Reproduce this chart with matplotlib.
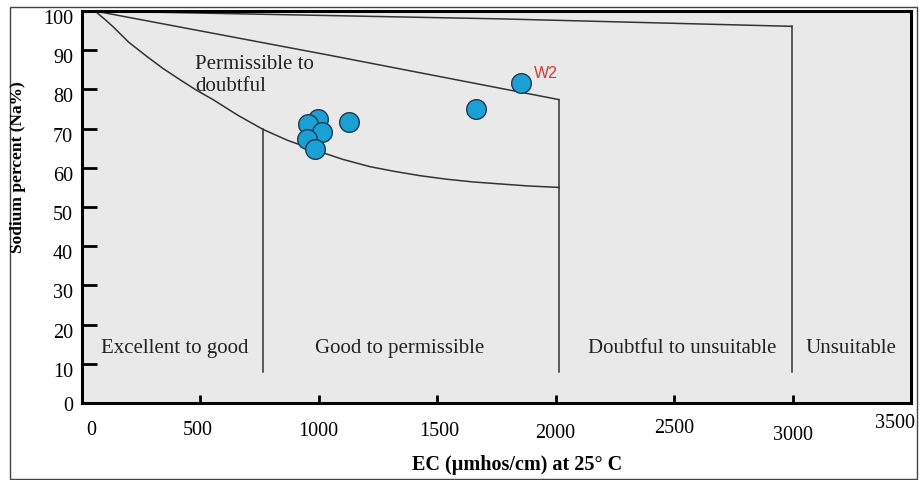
import numpy as np
import matplotlib.pyplot as plt
from matplotlib.patches import Rectangle
from matplotlib.transforms import ScaledTranslation

# sample points (EC, Na%)
ec_samples = [1854, 1663, 1129, 999, 957, 1016, 950, 985]
na_samples = [81.7, 74.9, 71.6, 72.5, 71.2, 69.2, 67.4, 64.8]
sample_names = ["W2", "", "", "", "", "", "", ""]

# boundary lines of the Wilcox diagram
top_ec = [57, 1766, 2996]
top_na = [100, 98.0, 96.1]
mid_ec = [57, 1048, 2015]
mid_na = [100, 88.7, 77.4]
low_ec = [57, 100, 133, 200, 276, 345, 415, 485, 555, 660, 766, 870, 977,
          1100, 1217, 1320, 1428, 1540, 1652, 1765, 1879, 2015]
low_na = [100, 97.8, 96.0, 92.0, 88.4, 85.3, 82.5, 79.8, 77.4, 73.4, 69.8, 67.0, 64.7,
          62.2, 60.3, 59.1, 58.0, 57.1, 56.4, 55.9, 55.4, 55.0]
divider_ec = [766, 2015, 2996]
divider_top = [69.8, 77.4, 96.1]
divider_bottom = 8

class_names = ["Excellent to good", "Good to permissible",
               "Doubtful to unsuitable", "Unsuitable"]
class_ec = [395, 1344, 2533, 3246]
class_na = 14.2

x_ticks = [0, 500, 1000, 1500, 2000, 2500, 3000, 3500]
y_ticks = [0, 10, 20, 30, 40, 50, 60, 70, 80, 90, 100]

serif = ["Liberation Serif", "DejaVu Serif"]

fig = plt.figure(figsize=(9.19, 4.81), dpi=100)
ax = fig.add_axes([0.0887, 0.160, 0.9026, 0.815])
ax.set_facecolor("#e9e9e9")

line_kw = dict(color="#333333", lw=1.1)
ax.plot(top_ec, top_na, **line_kw)
ax.plot(mid_ec, mid_na, **line_kw)
ax.plot(low_ec, low_na, **line_kw)
for xe, yt in zip(divider_ec, divider_top):
    ax.plot([xe, xe], [divider_bottom, yt], **line_kw)

for name, xe in zip(class_names, class_ec):
    ax.text(xe, class_na, name, ha="center", va="center", fontsize=15,
            family=serif, color="#222222")
ax.text(479, 83.8, "Permissible to\ndoubtful", ha="left", va="center",
        fontsize=15, family=serif, color="#222222", linespacing=1.17)

ax.scatter(ec_samples, na_samples, s=200, color="#1ba0d6",
           edgecolor="#1d3b4c", linewidth=1.0, zorder=5)
for name, xe, ye in zip(sample_names, ec_samples, na_samples):
    if name:
        ax.text(xe + 55, ye + 2.6, name, color="#d23a32", fontsize=11.5,
                family=["Liberation Sans", "DejaVu Sans"], ha="left", va="center")

ax.set_xlim(0, 3500)
ax.set_ylim(0, 100)
ax.set_xticks(x_ticks)
ax.set_yticks(y_ticks)
ax.set_xticklabels([str(v) for v in x_ticks], family=serif, fontsize=14.5)
ax.set_yticklabels([str(v) for v in y_ticks], family=serif, fontsize=14.5)
ax.tick_params(axis="x", direction="in", length=6, width=2, pad=12, color="black")
ax.tick_params(axis="y", direction="in", length=11, width=2, pad=6, color="black")

# small scanned-figure label shifts (pixels: right, down)
x_shift = [(10, 0), (-2, 0), (0, 1), (2, 1), (0, 3), (0, -2), (0, 5), (-16, -7)]
for lab, (dx, dy) in zip(ax.get_xticklabels(), x_shift):
    lab.set_transform(lab.get_transform() + ScaledTranslation(dx / 100, -dy / 100, fig.dpi_scale_trans))
for lab, v in zip(ax.get_yticklabels(), y_ticks):
    dy = 0 if v == 0 else 5
    lab.set_transform(lab.get_transform() + ScaledTranslation(0, -dy / 100, fig.dpi_scale_trans))

for sp in ax.spines.values():
    sp.set_linewidth(2.2)
    sp.set_color("black")

fig.text(0.5625, 0.033, "EC (\u00b5mhos/cm) at 25\u00b0 C", ha="center", va="center",
         fontsize=14.5, fontweight="bold", family=serif)
fig.text(0.020, 0.652, "Sodium percent (Na%)", ha="center", va="center",
         rotation=90, fontsize=12.5, fontweight="bold", family=serif)

# thin frame round the whole figure
fig.patches.append(Rectangle((10 / 919, 1 / 481), 907 / 919, 472 / 481,
                             transform=fig.transFigure, fill=False,
                             edgecolor="#444444", lw=1.0))

fig.savefig("out.png", dpi=100)
